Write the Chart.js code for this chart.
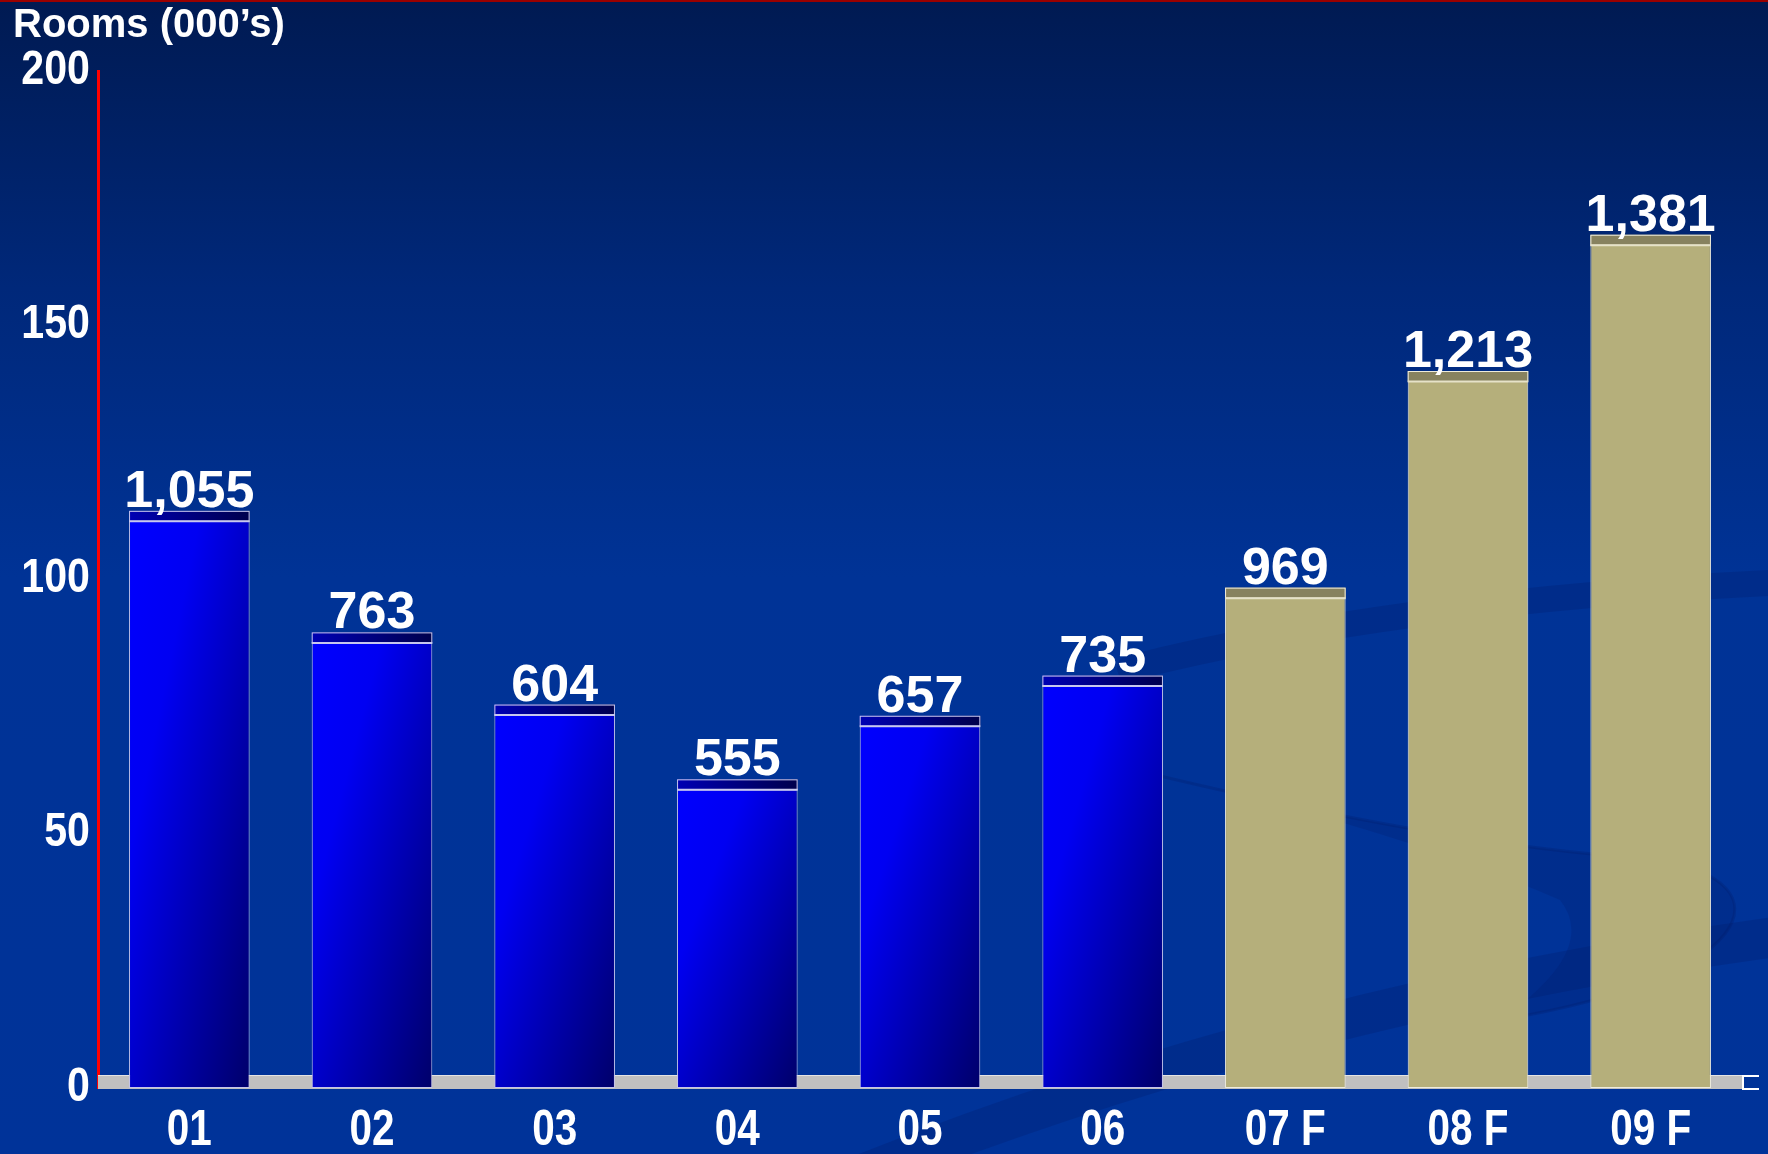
<!DOCTYPE html>
<html>
<head>
<meta charset="utf-8">
<script src="https://cdn.jsdelivr.net/npm/chart.js@4.4.1/dist/chart.umd.min.js"></script>
<style>
  html, body { margin: 0; padding: 0; width: 1768px; height: 1154px; overflow: hidden; background: #003399; }
  canvas { display: block; }
</style>
</head>
<body>
<canvas id="c" width="1768" height="1154"></canvas>
<script>
// ---- data ----
const categories = ['01', '02', '03', '04', '05', '06', '07 F', '08 F', '09 F'];
const roomValues = [113.5, 89.6, 75.4, 60.7, 73.2, 81.1, 98.4, 141.0, 167.8];
const valueLabels = ['1,055', '763', '604', '555', '657', '735', '969', '1,213', '1,381'];
const forecastFlags = [false, false, false, false, false, false, true, true, true];
const yTickValues = [0, 50, 100, 150, 200];
const axisTitle = 'Rooms (000\u2019s)';

// ---- styles ----
const REGULAR = "'Liberation Sans', Arial, sans-serif";
const BAR_PCT = 0.66;
const CAP_H = 10;
const CONDENSE = 0.84;

function finite(...vals) { return vals.every(v => typeof v === 'number' && isFinite(v)); }

function blueGradient(ctx, left, top, w, h) {
  const d = h * h + w * w;
  const ex = left + 2 * h * h * w / d;
  const ey = top + 2 * h * w * w / d;
  if (!finite(left, top, ex, ey)) return '#0000d0';
  const g = ctx.createLinearGradient(left, top, ex, ey);
  g.addColorStop(0, '#0000ff');
  g.addColorStop(0.3, '#0000f2');
  g.addColorStop(1, '#00006a');
  return g;
}

function condensedText(ctx, text, x, y, align, scaleX) {
  ctx.save();
  ctx.translate(x, y);
  ctx.scale(scaleX, 1);
  ctx.textAlign = align;
  ctx.textBaseline = 'middle';
  ctx.fillText(text, 0, 0);
  ctx.restore();
}

const backgroundPlugin = {
  id: 'bg',
  beforeDraw(chart) {
    const ctx = chart.ctx;
    const W = chart.width, H = chart.height;
    ctx.save();
    const g = ctx.createLinearGradient(0, 0, 0, H);
    g.addColorStop(0, '#001a52');
    g.addColorStop(0.25, '#00287a');
    g.addColorStop(0.5, '#003396');
    g.addColorStop(1, '#003399');
    ctx.fillStyle = g;
    ctx.fillRect(0, 0, W, H);
    // subtle swooshes
    ctx.strokeStyle = 'rgba(0, 25, 100, 0.24)';
    ctx.lineCap = 'round';
    ctx.lineWidth = 26;
    ctx.beginPath();
    ctx.moveTo(1130, 668);
    ctx.quadraticCurveTo(1400, 600, 1790, 582);
    ctx.stroke();
    ctx.lineCap = 'butt';
    ctx.lineWidth = 40;
    ctx.beginPath();
    ctx.moveTo(860, 1175);
    ctx.quadraticCurveTo(1300, 1000, 1790, 935);
    ctx.stroke();
    // lobe
    ctx.fillStyle = 'rgba(0, 25, 100, 0.20)';
    ctx.beginPath();
    ctx.moveTo(1160, 776);
    ctx.quadraticCurveTo(1450, 845, 1640, 858);
    ctx.bezierCurveTo(1790, 872, 1775, 975, 1500, 1020);
    ctx.quadraticCurveTo(1600, 950, 1560, 900);
    ctx.quadraticCurveTo(1400, 830, 1160, 776);
    ctx.fill();
    ctx.lineWidth = 3;
    ctx.lineCap = 'round';
    ctx.beginPath();
    ctx.moveTo(1160, 776);
    ctx.quadraticCurveTo(1450, 845, 1640, 858);
    ctx.bezierCurveTo(1790, 872, 1775, 975, 1500, 1020);
    ctx.stroke();
    // top red line
    ctx.fillStyle = '#9a0000';
    ctx.fillRect(0, 0, W, 2);
    ctx.restore();
  },
  beforeDatasetsDraw(chart) {
    const ctx = chart.ctx;
    const a = chart.chartArea;
    const y0 = chart.scales.y.getPixelForValue(0);
    ctx.save();
    ctx.fillStyle = '#c0c0c0';
    ctx.fillRect(a.left, y0 - 13, a.right - a.left + 1, 14);
    ctx.fillStyle = '#e4e4e4';
    ctx.fillRect(a.left, y0 - 13, a.right - a.left + 1, 1);
    // right end edge
    ctx.strokeStyle = '#ffffff';
    ctx.lineWidth = 2;
    ctx.beginPath();
    ctx.moveTo(a.right + 17, y0 - 12);
    ctx.lineTo(a.right + 1, y0 - 12);
    ctx.lineTo(a.right + 1, y0 + 1);
    ctx.lineTo(a.right + 17, y0 + 1);
    ctx.stroke();
    ctx.restore();
  },
  afterDatasetsDraw(chart) {
    const ctx = chart.ctx;
    const meta = chart.getDatasetMeta(0);
    ctx.save();
    meta.data.forEach((el, i) => {
      const w = el.width;
      const left = el.x - w / 2;
      const top = el.y;
      // cap
      if (forecastFlags[i]) {
        ctx.fillStyle = '#87825f';
      } else {
        const g = ctx.createLinearGradient(left, 0, left + w, 0);
        g.addColorStop(0, '#0000b4');
        g.addColorStop(1, '#00004c');
        ctx.fillStyle = g;
      }
      ctx.fillRect(left, top, w, CAP_H);
      ctx.strokeStyle = forecastFlags[i] ? '#efecdc' : '#c4c4ec';
      ctx.lineWidth = 1;
      ctx.strokeRect(left + 0.5, top + 0.5, w - 1, CAP_H);
      ctx.strokeStyle = forecastFlags[i] ? '#e6e2c8' : '#c8c8ee';
      ctx.lineWidth = 2;
      ctx.beginPath();
      ctx.moveTo(left, top + CAP_H + 0.5);
      ctx.lineTo(left + w, top + CAP_H + 0.5);
      ctx.stroke();
      // value label
      ctx.fillStyle = '#ffffff';
      ctx.font = "bold 52px " + REGULAR;
      ctx.textAlign = 'center';
      ctx.textBaseline = 'alphabetic';
      ctx.fillText(valueLabels[i], el.x, top - 4);
    });
    ctx.restore();
  },
  afterDraw(chart) {
    const ctx = chart.ctx;
    const xs = chart.scales.x, ys = chart.scales.y;
    ctx.save();
    ctx.fillStyle = '#ffffff';
    // axis title
    ctx.font = "bold 40px " + REGULAR;
    ctx.textAlign = 'left';
    ctx.textBaseline = 'alphabetic';
    ctx.fillText(axisTitle, 13, 37);
    // condensed tick labels
    ctx.font = "bold 49px " + REGULAR;
    yTickValues.forEach(v => {
      condensedText(ctx, String(v), ys.left + ys.width - 8, ys.getPixelForValue(v) - 1, 'right', CONDENSE);
    });
    ctx.font = "bold 50px " + REGULAR;
    categories.forEach((c, i) => {
      condensedText(ctx, c, xs.getPixelForValue(i), xs.top + 43, 'center', 0.81);
    });
    ctx.restore();
  }
};

new Chart(document.getElementById('c'), {
  type: 'bar',
  data: {
    labels: categories,
    datasets: [{
      label: axisTitle,
      data: roomValues,
      barPercentage: BAR_PCT,
      categoryPercentage: 1.0,
      borderWidth: 1,
      borderSkipped: false,
      borderColor: (c) => forecastFlags[c.dataIndex] ? '#efecdc' : '#c4c4ec',
      backgroundColor: (c) => {
        const i = c.dataIndex;
        if (i === undefined) return '#0000d0';
        if (forecastFlags[i]) return '#b5af7b';
        const chart = c.chart;
        const xs = chart.scales.x, ys = chart.scales.y;
        if (!xs || !ys || !chart.chartArea) return '#0000d0';
        const cx = xs.getPixelForValue(i);
        const w = (xs.right - xs.left) / categories.length * BAR_PCT;
        const top = ys.getPixelForValue(roomValues[i]);
        const bot = ys.getPixelForValue(0);
        if (!finite(cx, w, top, bot) || w <= 0) return '#0000d0';
        return blueGradient(chart.ctx, cx - w / 2, top, w, Math.max(1, bot - top));
      }
    }]
  },
  options: {
    responsive: false,
    animation: false,
    devicePixelRatio: 1,
    layout: { padding: { left: 0, right: 26, top: 71, bottom: 0 } },
    plugins: {
      legend: { display: false },
      tooltip: { enabled: false },
      title: { display: false }
    },
    scales: {
      x: {
        grid: { display: false, drawTicks: false },
        border: { display: false },
        ticks: { display: false },
        afterFit(scale) { scale.height = 66; }
      },
      y: {
        min: 0,
        max: 200,
        afterBuildTicks(scale) { scale.ticks = yTickValues.map(v => ({ value: v })); },
        grid: { display: false, drawTicks: false },
        border: { display: true, color: '#ff0000', width: 3 },
        ticks: { display: false },
        afterFit(scale) { scale.width = 98; }
      }
    }
  },
  plugins: [backgroundPlugin]
});
</script>
</body>
</html>
